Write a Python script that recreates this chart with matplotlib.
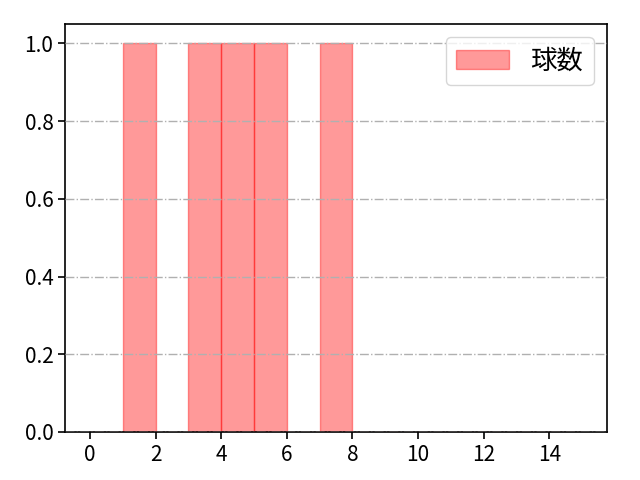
import matplotlib
matplotlib.use("Agg")
import matplotlib.pyplot as plt

plt.rcParams['font.family'] = ['Noto Sans CJK JP', 'DejaVu Sans']

# 球数 (pitch counts), one value per observation
pitch_counts = [1, 3, 4, 5, 7]
bins = list(range(0, 16))

fig, ax = plt.subplots(figsize=(6.4, 4.8), dpi=100)
fig.subplots_adjust(left=0.102, right=0.948, top=0.95, bottom=0.1)
ax.hist(pitch_counts, bins=bins, color="red", alpha=0.4, edgecolor="red", label="球数")
ax.grid(axis="y", linestyle="-.", color="#b0b0b0", linewidth=1.0)
ax.set_axisbelow(False)
ax.set_xticks(range(0, 16, 2))
ax.legend(loc="upper right", fontsize=19)
ax.tick_params(labelsize=15, length=5, width=1.2)
for s in ax.spines.values():
    s.set_linewidth(1.2)

plt.savefig("out.png")
